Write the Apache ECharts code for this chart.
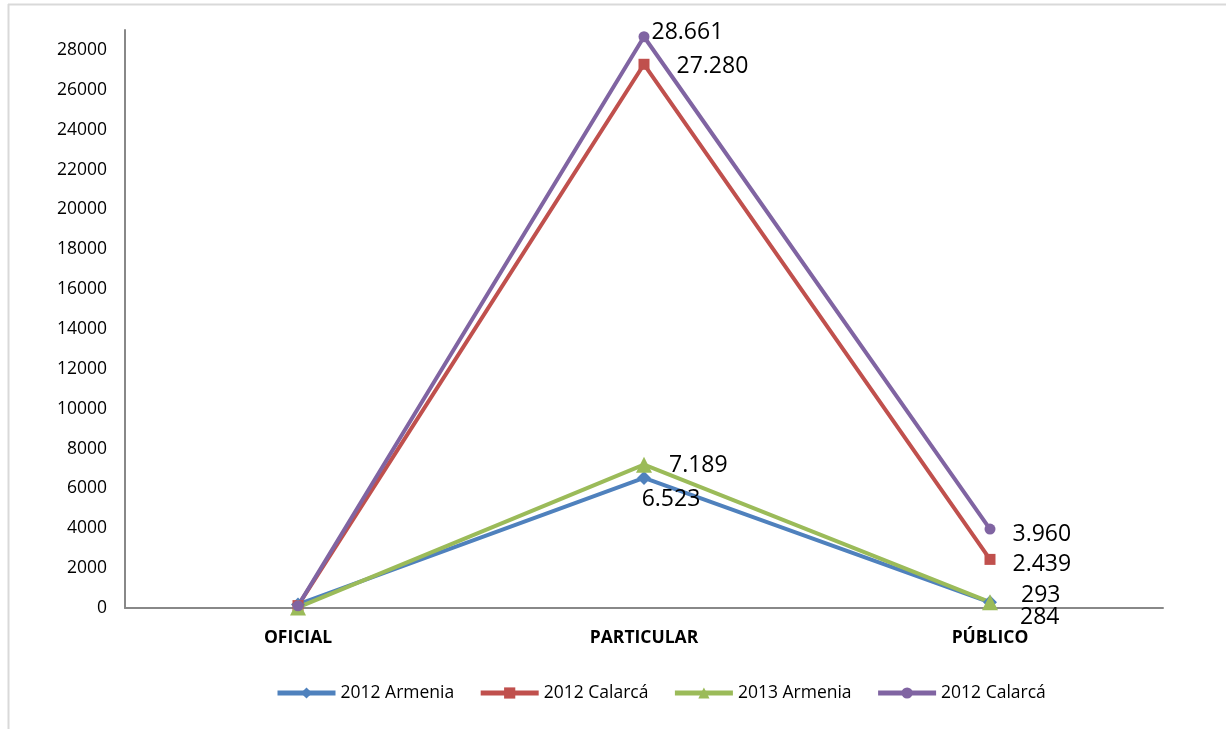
<!DOCTYPE html>
<html>
<head>
<meta charset="utf-8">
<script src="https://cdn.jsdelivr.net/npm/echarts@6/dist/echarts.min.js"></script>
<style>
html,body{margin:0;padding:0;background:#fff;}
#chart{width:1226px;height:729px;}
</style>
</head>
<body>
<div id="chart"></div>
<script>
const categories = ['OFICIAL', 'PARTICULAR', 'PÚBLICO'];
const seriesNames = ['2012 Armenia', '2012 Calarcá', '2013 Armenia', '2012 Calarcá'];
const armenia2012 = [180, 6523, 284];
const calarca2012a = [120, 27280, 2439];
const armenia2013 = [30, 7189, 293];
const calarca2012b = [110, 28661, 3960];
const yTicks = [0, 2000, 4000, 6000, 8000, 10000, 12000, 14000, 16000, 18000, 20000, 22000, 24000, 26000, 28000];
// which points carry a data label (index into categories)
const labelled = [1, 2];

const chart = echarts.init(document.getElementById('chart'));
const fontFam = '"Open Sans", "Noto Sans", sans-serif';

function fmt(v) {
  return String(v).replace(/\B(?=(\d{3})+(?!\d))/g, '.');
}

function mkSeries(name, data, color, symbol, symbolSize, labelPos, offsets) {
  return {
    name: name,
    type: 'line',
    data: data.map((v, i) => {
      const o = { value: v };
      if (labelled.indexOf(i) >= 0) {
        o.label = {
          show: true,
          position: labelPos[i] || 'right',
          offset: offsets[i] || [0, 0],
          formatter: p => fmt(p.value),
          color: '#000',
          fontSize: 23,
          fontFamily: fontFam
        };
      } else {
        o.label = { show: false };
      }
      return o;
    }),
    symbol: symbol,
    symbolSize: symbolSize,
    showAllSymbol: true,
    lineStyle: { color: color, width: 4 },
    itemStyle: { color: color },
    emphasis: { disabled: true },
    z: 2
  };
}

const option = {
  animation: false,
  backgroundColor: '#fff',
  graphic: [
    { type: 'line', shape: { x1: 8, y1: 4.5, x2: 1226, y2: 4.5 }, style: { stroke: '#d9d9d9', lineWidth: 2 } },
    { type: 'line', shape: { x1: 8.5, y1: 4, x2: 8.5, y2: 729 }, style: { stroke: '#d9d9d9', lineWidth: 2 } }
  ],
  grid: { left: 125, right: 63, top: 30, bottom: 121, containLabel: false },
  legend: {
    bottom: 22,
    left: 270,
    itemWidth: 58,
    itemHeight: 14,
    itemGap: 24,
    lineStyle: { width: 5 },
    textStyle: { fontSize: 17.5, color: '#000', fontFamily: fontFam },
    data: [seriesNames[0], seriesNames[1], seriesNames[2], seriesNames[3] + ' ']
  },
  xAxis: {
    type: 'category',
    data: categories,
    boundaryGap: true,
    axisLine: { lineStyle: { color: '#888', width: 2 } },
    axisTick: { show: false },
    axisLabel: { color: '#000', fontSize: 17.5, fontWeight: 'bold', fontFamily: fontFam, margin: 21 }
  },
  yAxis: {
    type: 'value',
    min: 0,
    max: 29000,
    interval: 2000,
    axisLine: { show: true, lineStyle: { color: '#888', width: 2 } },
    axisTick: { show: false },
    splitLine: { show: false },
    axisLabel: {
      color: '#000',
      fontSize: 17.5,
      fontFamily: fontFam,
      margin: 18,
      showMaxLabel: false,
      formatter: v => (yTicks.indexOf(v) >= 0 ? String(v) : '')
    }
  },
  series: [
    mkSeries(seriesNames[0], armenia2012, '#4F81BD', 'diamond', 14,
      { 1: 'bottom', 2: 'right' }, { 1: [27, -2], 2: [18, 15] }),
    mkSeries(seriesNames[1], calarca2012a, '#C0504D', 'rect', 11,
      { 1: 'right', 2: 'right' }, { 1: [22, 2], 2: [12, 5] }),
    mkSeries(seriesNames[2], armenia2013, '#9BBB59', 'triangle', 16,
      { 1: 'right', 2: 'right' }, { 1: [12, 1], 2: [18, -7] }),
    mkSeries(seriesNames[3] + ' ', calarca2012b, '#8064A2', 'circle', 11,
      { 1: 'right', 2: 'right' }, { 1: [-3, -4], 2: [12, 5] })
  ]
};
option.legend.formatter = n => n.trim();
chart.setOption(option);
</script>
</body>
</html>
